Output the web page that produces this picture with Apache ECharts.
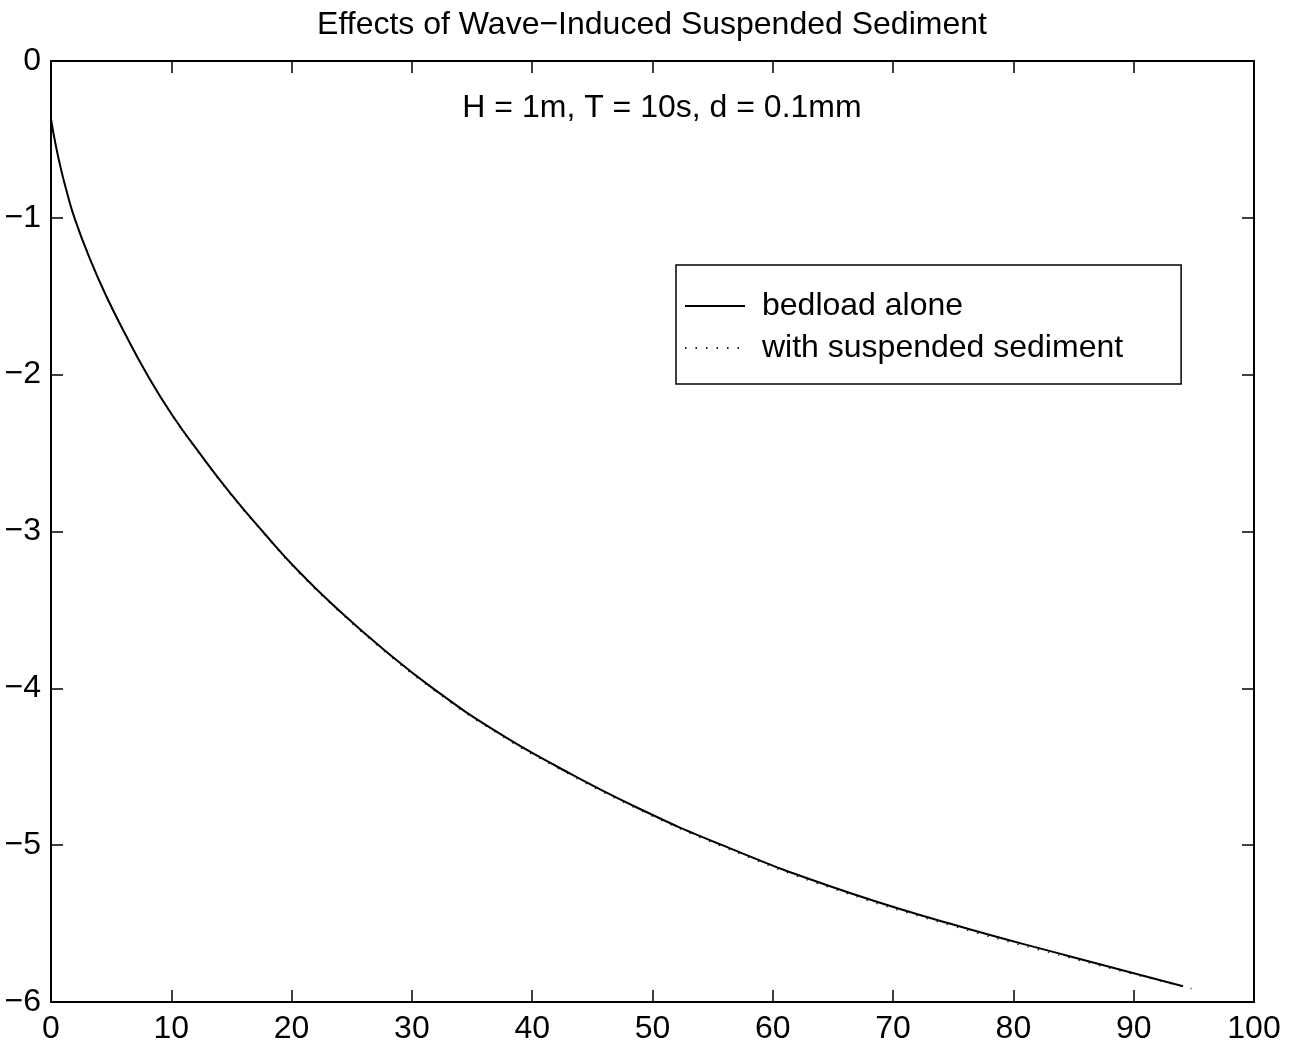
<!DOCTYPE html>
<html>
<head>
<meta charset="utf-8">
<title>Effects of Wave-Induced Suspended Sediment</title>
<script src="https://cdn.jsdelivr.net/npm/echarts@6/dist/echarts.min.js"></script>
<style>
  html, body { margin: 0; padding: 0; background: #fff; }
  #chart { width: 1304px; height: 1047px; }
</style>
</head>
<body>
<div id="chart"></div>
<script>
// Profile with bedload transport only
const bedloadX = [0, 0.3, 0.8, 1.3, 1.95, 3.2, 4.6, 6.2, 8.0, 10.1, 12.35, 14.9, 17.6, 20.6, 23.9, 27.7, 31.75, 36.8, 42.1, 48.7, 55.8, 64.7, 74.7, 84.5, 94.1];
const bedloadY = [-0.37, -0.50, -0.68, -0.83, -1.00, -1.255, -1.50, -1.745, -2.00, -2.26, -2.50, -2.755, -3.00, -3.255, -3.50, -3.755, -4.00, -4.265, -4.50, -4.76, -5.00, -5.26, -5.50, -5.705, -5.90];

// Profile including wave-induced suspended sediment
const suspendedX = [0, 0.3, 0.8, 1.3, 1.95, 3.2, 4.6, 6.2, 8.0, 10.1, 12.35, 14.9, 17.6, 20.6, 23.9, 27.7, 31.75, 36.8, 42.1, 48.7, 55.8, 64.7, 74.7, 84.5, 94.8];
const suspendedY = [-0.37, -0.50, -0.68, -0.83, -1.00, -1.255, -1.50, -1.745, -2.00, -2.265, -2.505, -2.761, -3.006, -3.262, -3.507, -3.763, -4.008, -4.273, -4.508, -4.768, -5.009, -5.27, -5.51, -5.715, -5.915];

const seriesNames = ['bedload alone', 'with suspended sediment'];
const chartTitle = 'Effects of Wave\u2212Induced Suspended Sediment';
const caseLabel = 'H = 1m, T = 10s, d = 0.1mm';

const xTicks = { min: 0, max: 100, step: 10 };
const yTicks = { min: -6, max: 0, step: 1 };

const FONT = '"Liberation Sans", Arial, Helvetica, sans-serif';
const FS = 32;

const pairs = (xs, ys) => xs.map((x, i) => [x, ys[i]]);
const fmt = v => (v < 0 ? '\u2212' + Math.abs(v) : String(v));

function axis(pos, range, showLabel, margin) {
  return {
    type: 'value',
    position: pos,
    min: range.min,
    max: range.max,
    interval: range.step,
    axisLine: { show: true, onZero: false, lineStyle: { color: '#000', width: 2 } },
    axisTick: { show: true, inside: true, length: 12, lineStyle: { color: '#000', width: 1.5 } },
    axisLabel: {
      show: showLabel,
      color: '#000',
      fontFamily: FONT,
      fontSize: FS,
      margin: margin,
      formatter: fmt
    },
    splitLine: { show: false }
  };
}

const chart = echarts.init(document.getElementById('chart'), null, { renderer: 'canvas' });

chart.setOption({
  backgroundColor: '#fff',
  animation: false,
  title: [
    {
      text: chartTitle,
      left: 'center',
      top: 4,
      textStyle: { color: '#000', fontFamily: FONT, fontSize: FS, fontWeight: 'normal' }
    },
    {
      text: caseLabel,
      left: 657,
      textAlign: 'center',
      top: 87,
      textStyle: { color: '#000', fontFamily: FONT, fontSize: FS, fontWeight: 'normal' }
    }
  ],
  grid: { left: 51, right: 50, top: 61, bottom: 45, containLabel: false },
  xAxis: [axis('bottom', xTicks, true, 11), axis('top', xTicks, false, 8)],
  yAxis: [axis('left', yTicks, true, 10), axis('right', yTicks, false, 8)],
  legend: {
    orient: 'vertical',
    left: 676,
    top: 265,
    backgroundColor: '#fff',
    borderColor: '#000',
    borderWidth: 1.5,
    padding: [25, 58, 20, 8],
    itemWidth: 60,
    itemHeight: 14,
    itemGap: 10,
    itemStyle: { opacity: 0 },
    textStyle: { color: '#000', fontFamily: FONT, fontSize: FS, lineHeight: 30, padding: [0, 0, 0, 12] },
    data: seriesNames
  },
  series: [
    {
      name: seriesNames[0],
      type: 'line',
      data: pairs(bedloadX, bedloadY),
      symbol: 'none',
      smooth: 0.5,
      z: 3,
      itemStyle: { color: '#000' },
      lineStyle: { color: '#000', width: 2 }
    },
    {
      name: seriesNames[1],
      type: 'line',
      data: pairs(suspendedX, suspendedY),
      symbol: 'none',
      smooth: 0.5,
      z: 2,
      itemStyle: { color: '#222' },
      lineStyle: { color: '#222', width: 1.3, type: [1.5, 9] }
    }
  ]
});
</script>
</body>
</html>
